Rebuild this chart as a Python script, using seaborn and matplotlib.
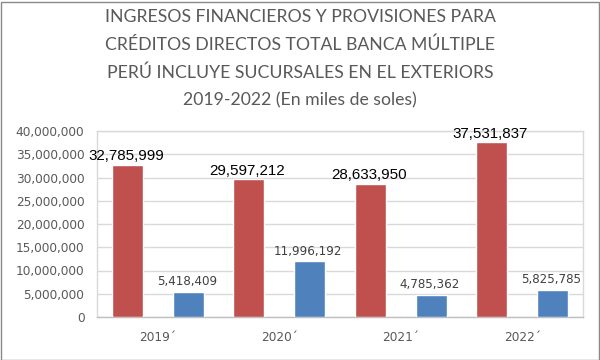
import matplotlib
matplotlib.use("Agg")
import matplotlib.pyplot as plt
import seaborn as sns
import pandas as pd
from matplotlib.patches import Rectangle
from matplotlib.ticker import FuncFormatter, MultipleLocator

categories = ["2019´", "2020´", "2021´", "2022´"]
ingresos = [32785999, 29597212, 28633950, 37531837]
provisiones = [5418409, 11996192, 4785362, 5825785]
series_names = ["Ingresos financieros", "Provisiones"]
colors = ["#C0504D", "#4F81BD"]

df = pd.DataFrame({
    "cat": categories * 2,
    "serie": [series_names[0]] * 4 + [series_names[1]] * 4,
    "valor": ingresos + provisiones,
})

sns.set_theme(style="white")
plt.rcParams["font.family"] = ["DejaVu Sans"]

fig = plt.figure(figsize=(6, 3.6), dpi=100)
ax = fig.add_axes([97 / 600, 1 - 317 / 360, (583 - 97) / 600, (317 - 131) / 360])

sns.barplot(data=df, x="cat", y="valor", hue="serie", order=categories,
            hue_order=series_names, palette=colors, width=1.0, gap=0.49,
            saturation=1, legend=False, ax=ax, zorder=3)

ax.set_ylim(0, 40000000)
ax.set_xlim(-0.5, 3.5)
ax.yaxis.set_major_locator(MultipleLocator(5000000))
ax.yaxis.set_major_formatter(FuncFormatter(lambda v, p: f"{int(v):,}"))
ax.grid(axis="y", color="#D9D9D9", linewidth=1, zorder=0)
ax.set_axisbelow(True)
for s in ax.spines.values():
    s.set_color("#D9D9D9")
    s.set_linewidth(1)
ax.spines["bottom"].set_color("#BFBFBF")
ax.tick_params(axis="both", length=0, labelsize=8.7, colors="#595959")
ax.tick_params(axis="y", pad=9)
ax.tick_params(axis="x", pad=10)
ax.set_xlabel("")
ax.set_ylabel("")

containers = ax.containers
for bar, v in zip(containers[0], ingresos):
    ax.annotate(f"{v:,}", (bar.get_x() + bar.get_width() / 2, bar.get_height()),
                xytext=(-1, 1), textcoords="offset points", ha="center", va="bottom",
                fontsize=10.9, color="#000000", family=["Liberation Sans"])
for bar, v in zip(containers[1], provisiones):
    ax.annotate(f"{v:,}", (bar.get_x() + bar.get_width() / 2, bar.get_height()),
                xytext=(-1, 2.5), textcoords="offset points", ha="center", va="bottom",
                fontsize=8.6, color="#404040")

title = ("INGRESOS FINANCIEROS Y PROVISIONES PARA\nCRÉDITOS DIRECTOS TOTAL BANCA MÚLTIPLE\n"
         "PERÚ INCLUYE SUCURSALES EN EL EXTERIORS\n2019-2022 (En miles de soles)")
fig.text(0.5, 1 - 9 / 360, title, ha="center", va="top", fontsize=12.7,
         color="#595959", family=["Lato", "DejaVu Sans"], linespacing=1.86)

fig.patches.append(Rectangle((0.5 / 600, 0.5 / 360), 598.5 / 600, 358 / 360,
                             transform=fig.transFigure, fill=False,
                             edgecolor="#898989", linewidth=1))

fig.savefig("out.png", dpi=100)
